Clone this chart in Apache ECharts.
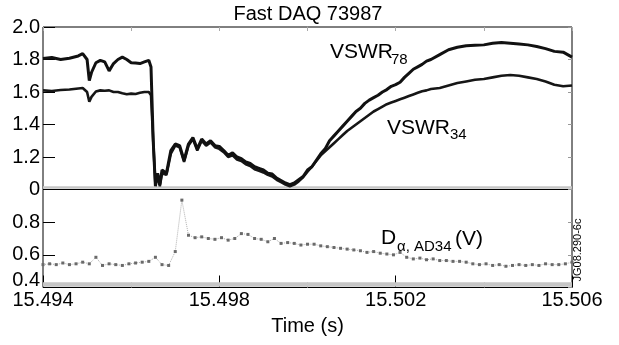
<!DOCTYPE html>
<html>
<head>
<meta charset="utf-8">
<script src="https://cdn.jsdelivr.net/npm/echarts@6/dist/echarts.min.js"></script>
<style>
html,body{margin:0;padding:0;background:#fff;}
#c{width:619px;height:345px;}
</style>
</head>
<body>
<div id="c"></div>
<script>
// ---- data ----
const titleText = 'Fast DAQ 73987';
const xAxisName = 'Time (s)';
const vTime = [
15.4940,15.4942,15.4944,15.4946,15.4948,15.4949,15.4950,15.49505,15.4951,15.4952,
15.4953,15.4954,15.4955,15.4956,15.4957,15.4958,15.4959,15.4960,15.4961,15.4962,
15.4963,15.4964,15.49645,15.4965,15.49655,15.4966,15.49665,15.4967,
15.4968,15.4969,15.4970,15.4971,15.4972,15.4973,15.4974,15.4975,15.4976,15.4977,
15.4978,15.4979,15.4980,15.4981,15.4982,15.4983,15.4984,15.4985,15.4986,15.4987,
15.4988,15.4989,15.4990,15.4991,15.4992,15.4993,15.4994,15.4995,15.4996,15.4997,
15.4998,15.4999,15.5000,15.5001,15.5002,15.5003,15.5004,15.5005,15.5006,15.5007,
15.5008,15.5009,15.5010,15.5011,15.5012,15.5013,15.5014,15.5015,15.5016,15.5017,
15.5018,15.5019,15.5020,15.5021,15.5022,15.5023,15.5024,15.5025,15.5026,15.5027,15.5028,
15.5030,15.5032,15.5034,15.5036,15.5038,15.5040,15.5042,15.5044,15.5046,15.5048,
15.5050,15.5052,15.5054,15.5056,15.5058,15.5060
];
const vswr78 = [
1.806,1.812,1.800,1.808,1.822,1.836,1.800,1.670,1.720,1.780,
1.795,1.785,1.730,1.775,1.800,1.815,1.800,1.780,1.778,1.775,
1.785,1.795,1.754,1.300,1.020,1.100,1.030,1.120,
1.100,1.240,1.280,1.270,1.180,1.280,1.320,1.250,1.310,1.280,
1.300,1.270,1.265,1.240,1.210,1.225,1.200,1.190,1.170,1.160,
1.140,1.130,1.120,1.100,1.095,1.070,1.055,1.040,1.030,1.040,
1.060,1.080,1.120,1.140,1.180,1.220,1.250,1.300,1.330,1.360,
1.390,1.420,1.450,1.480,1.500,1.530,1.550,1.565,1.580,1.600,
1.615,1.635,1.645,1.660,1.690,1.715,1.740,1.755,1.770,1.790,1.800,
1.830,1.860,1.875,1.885,1.888,1.890,1.900,1.905,1.900,1.895,
1.890,1.880,1.867,1.850,1.845,1.815
];
const vswr34 = [
1.610,1.606,1.612,1.615,1.622,1.625,1.600,1.540,1.570,1.603,
1.610,1.608,1.610,1.600,1.600,1.592,1.586,1.590,1.588,1.595,
1.600,1.600,1.580,1.300,1.030,1.080,1.020,1.100,
1.090,1.220,1.270,1.260,1.170,1.270,1.310,1.240,1.300,1.270,
1.290,1.260,1.250,1.230,1.200,1.210,1.185,1.175,1.155,1.145,
1.125,1.115,1.105,1.090,1.080,1.060,1.045,1.030,1.020,1.030,
1.050,1.075,1.110,1.140,1.175,1.210,1.235,1.260,1.285,1.310,
1.335,1.360,1.380,1.400,1.420,1.440,1.460,1.480,1.495,1.510,
1.525,1.535,1.545,1.555,1.565,1.575,1.585,1.595,1.605,1.610,1.618,
1.625,1.640,1.655,1.665,1.675,1.680,1.690,1.700,1.705,1.700,
1.690,1.680,1.665,1.645,1.635,1.640
];
const dTime = [
15.49400,15.49415,15.49430,15.49445,15.49460,15.49475,15.49490,15.49505,15.49520,15.49535,
15.49550,15.49565,15.49580,15.49595,15.49610,15.49625,15.49640,15.49655,15.49670,15.49685,
15.49700,15.49715,15.49730,15.49745,15.49760,15.49775,15.49790,15.49805,15.49820,15.49835,
15.49850,15.49865,15.49880,15.49895,15.49910,15.49925,15.49940,15.49955,15.49970,15.49985,
15.50000,15.50015,15.50030,15.50045,15.50060,15.50075,15.50090,15.50105,15.50120,15.50135,
15.50150,15.50165,15.50180,15.50195,15.50210,15.50225,15.50240,15.50255,15.50270,15.50285,
15.50300,15.50315,15.50330,15.50345,15.50360,15.50375,15.50390,15.50405,15.50420,15.50435,
15.50450,15.50465,15.50480,15.50495,15.50510,15.50525,15.50540,15.50555,15.50570,15.50585,
15.50600
];
const dAlpha = [
0.540,0.545,0.540,0.550,0.540,0.545,0.555,0.545,0.585,0.535,
0.545,0.540,0.535,0.545,0.550,0.555,0.560,0.585,0.540,0.535,
0.620,0.935,0.720,0.705,0.710,0.700,0.695,0.705,0.690,0.700,
0.730,0.725,0.700,0.695,0.680,0.700,0.670,0.675,0.670,0.660,
0.665,0.665,0.655,0.650,0.645,0.640,0.635,0.630,0.625,0.615,
0.620,0.610,0.605,0.600,0.615,0.585,0.575,0.580,0.570,0.575,
0.565,0.565,0.560,0.560,0.555,0.545,0.540,0.545,0.535,0.540,
0.530,0.535,0.540,0.535,0.540,0.535,0.545,0.540,0.540,0.545,
0.555
];
const xMin = 15.494, xMax = 15.506;
const topYMin = 1.0, topYMax = 2.0;
const botYMin = 0.4, botYMax = 1.0;

// ---- chart ----
const pairs = (t, v) => t.map((x, i) => [x, v[i]]);
const FF = '"Liberation Sans", Arial, sans-serif';
const chart = echarts.init(document.getElementById('c'), null, {renderer: 'canvas'});
const txt = (x, y, text, size, extra) => Object.assign({
  type: 'text', x: x, y: y, silent: true, z: 100,
  style: {text: text, fill: '#000', font: size + 'px ' + FF, textAlign: 'left', textVerticalAlign: 'middle'}
}, extra || {});

const option = {
  animation: false,
  backgroundColor: '#fff',
  textStyle: {fontFamily: FF},
  grid: [
    {left: 43, right: 47, top: 27, height: 162.5, show: true, borderColor: '#000', borderWidth: 1, backgroundColor: 'transparent'},
    {left: 43, right: 47, top: 189.5, height: 98, show: true, borderColor: '#000', borderWidth: 1, backgroundColor: 'transparent'}
  ],
  xAxis: [
    {type: 'value', gridIndex: 0, min: xMin, max: xMax, interval: 0.002, position: 'bottom',
     axisLine: {show: false}, axisTick: {show: false}, axisLabel: {show: false}, splitLine: {show: false}},
    {type: 'value', gridIndex: 0, min: xMin, max: xMax, interval: 0.002, position: 'top',
     axisLine: {show: false}, axisTick: {show: true, inside: true, length: 4, lineStyle: {color: '#aaa'}},
     axisLabel: {show: false}, splitLine: {show: false}},
    {type: 'value', gridIndex: 1, min: xMin, max: xMax, interval: 0.004, position: 'bottom',
     axisLine: {show: false},
     axisTick: {show: true, inside: true, length: 12, lineStyle: {color: '#000', width: 1}},
     minorTick: {show: true, splitNumber: 2, length: 5, lineStyle: {color: '#999'}},
     axisLabel: {show: true, margin: 3, color: '#000', fontSize: 20, fontFamily: FF, formatter: v => v.toFixed(3)},
     splitLine: {show: false}, minorSplitLine: {show: false},
     name: xAxisName, nameLocation: 'middle', nameGap: 29,
     nameTextStyle: {color: '#000', fontSize: 20, fontFamily: FF}}
  ],
  yAxis: [
    {type: 'value', gridIndex: 0, min: topYMin, max: topYMax, interval: 0.2, position: 'left',
     axisLine: {show: false}, axisTick: {show: true, inside: true, length: 12, lineStyle: {color: '#000'}},
     axisLabel: {show: true, margin: 3, color: '#000', fontSize: 20, fontFamily: FF,
       formatter: v => Math.abs(v - 1) < 1e-6 ? '0' : v.toFixed(1)},
     splitLine: {show: false}},
    {type: 'value', gridIndex: 0, min: topYMin, max: topYMax, interval: 0.2, position: 'right',
     axisLine: {show: false}, axisTick: {show: true, inside: true, length: 4, lineStyle: {color: '#999'}},
     axisLabel: {show: false}, splitLine: {show: false}},
    {type: 'value', gridIndex: 1, min: botYMin, max: botYMax, interval: 0.2, position: 'left',
     axisLine: {show: false}, axisTick: {show: true, inside: true, length: 12, lineStyle: {color: '#000'}},
     axisLabel: {show: true, margin: 3, color: '#000', fontSize: 20, fontFamily: FF,
       formatter: v => v > 0.99 ? '' : (v < 0.41 ? '{lift|' + v.toFixed(1) + '}' : v.toFixed(1)),
       rich: {lift: {fontSize: 20, fontFamily: FF, color: '#000', padding: [0, 0, 15, 0]}}},
     splitLine: {show: false}},
    {type: 'value', gridIndex: 1, min: botYMin, max: botYMax, interval: 0.2, position: 'right',
     axisLine: {show: false}, axisTick: {show: true, inside: true, length: 4, lineStyle: {color: '#999'}},
     axisLabel: {show: false}, splitLine: {show: false}}
  ],
  series: [
    {type: 'line', name: 'VSWR34', xAxisIndex: 0, yAxisIndex: 0, data: pairs(vTime, vswr34),
     showSymbol: false, symbol: 'none', lineStyle: {color: '#161616', width: 2.6}, z: 3,
     markArea: {silent: true, itemStyle: {color: '#c6c6c6'}, data: [[{yAxis: 1.004}, {yAxis: 1.02}]]}},
    {type: 'line', name: 'VSWR78', xAxisIndex: 0, yAxisIndex: 0, data: pairs(vTime, vswr78),
     showSymbol: false, symbol: 'none', lineStyle: {color: '#111', width: 3}, z: 4},
    {type: 'line', name: 'Dalpha', xAxisIndex: 2, yAxisIndex: 2, data: pairs(dTime, dAlpha),
     symbol: 'rect', symbolSize: 3, showSymbol: true, itemStyle: {color: '#6a6a6a'},
     lineStyle: {color: '#b0b0b0', width: 1, type: 'dotted'}, z: 3,
     markArea: {silent: true, itemStyle: {color: '#c6c6c6'}, data: [[{yAxis: 0.404}, {yAxis: 0.432}]]}}
  ],
  graphic: [
    {type: 'text', x: 308, y: 14, silent: true, z: 100,
     style: {text: titleText, fill: '#000', font: '20px ' + FF, textAlign: 'center', textVerticalAlign: 'middle'}},
    txt(330, 52, 'VSWR', 21),
    txt(391, 60, '78', 15),
    txt(387, 128, 'VSWR', 21),
    txt(450, 135, '34', 15),
    txt(381, 238, 'D', 21),
    txt(397, 247, 'α, AD34', 15),
    txt(455, 239, '(V)', 21),
    {type: 'text', x: 578, y: 250, rotation: Math.PI / 2, silent: true, z: 100,
     style: {text: 'JG08.290-6c', fill: '#000', font: '11px ' + FF, textAlign: 'center', textVerticalAlign: 'middle'}}
  ]
};
chart.setOption(option);
</script>
</body>
</html>
